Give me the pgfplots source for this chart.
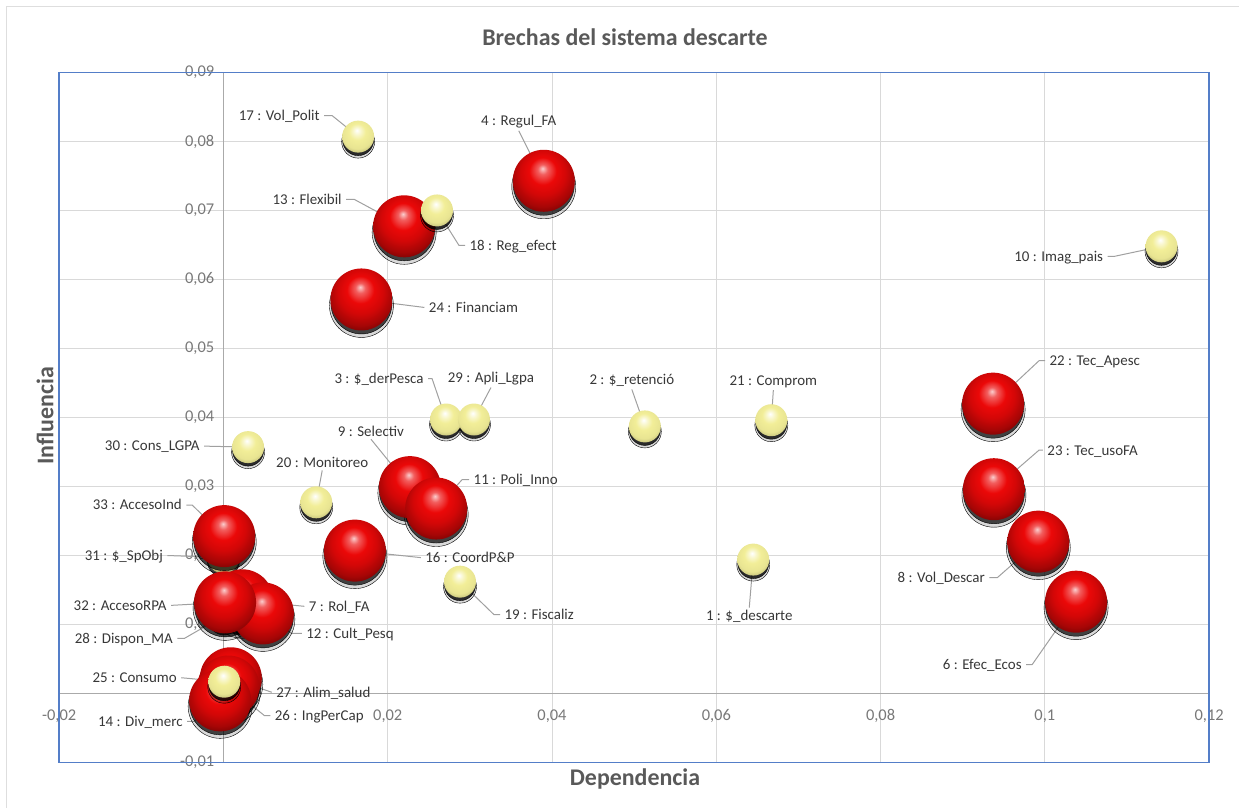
\documentclass[border=0pt]{standalone}
\usepackage{pgfplots}
\pgfplotsset{compat=1.18}
\usepackage{pgfplotstable}
\usepackage{fontspec}
\setmainfont{Carlito}

\definecolor{ballred}{RGB}{235,8,8}
\definecolor{ballyel}{RGB}{242,238,152}
\definecolor{gridgray}{RGB}{217,217,217}
\definecolor{axisgray}{RGB}{170,170,170}
\definecolor{framecol}{RGB}{84,126,200}
\definecolor{tickgray}{RGB}{120,120,120}
\definecolor{labgray}{RGB}{55,55,55}
\definecolor{titlegray}{RGB}{89,89,89}
\definecolor{leadgray}{RGB}{160,160,160}
\definecolor{outergray}{RGB}{222,222,222}

% glossy spheres for the bubbles
\pgfdeclareradialshading{redball}{\pgfpoint{-1bp}{10bp}}{%
  color(0bp)=(ballred!20!white);
  color(4bp)=(ballred!65!white);
  color(11bp)=(ballred);
  color(18bp)=(ballred!90!black);
  color(26bp)=(ballred!70!black);
  color(33bp)=(ballred!42!black);
  color(50bp)=(ballred!42!black)}
\pgfdeclareradialshading{yelball}{\pgfpoint{-2bp}{10bp}}{%
  color(0bp)=(white);
  color(6bp)=(ballyel!50!white);
  color(13bp)=(ballyel);
  color(24bp)=(ballyel!96!black);
  color(30bp)=(ballyel!82!black);
  color(36bp)=(ballyel!55!black);
  color(50bp)=(ballyel!55!black)}
\pgfdeclareplotmark{redball}{\pgfpathcircle{\pgfpointorigin}{\pgfplotmarksize}\pgfshadepath{redball}{0}\pgfusepath{}}
\pgfdeclareplotmark{yelball}{\pgfpathcircle{\pgfpointorigin}{\pgfplotmarksize}\pgfshadepath{yelball}{0}\pgfusepath{}}

\newcommand{\ticksize}{\fontsize{16.5}{19}\selectfont}
\newcommand{\labsize}{\fontsize{15}{18}\selectfont}

\tikzset{
  leader/.style={draw=leadgray, line width=1bp},
  lbE/.style={anchor=base east, yshift=-4.8bp, inner sep=4bp, font=\labsize, text=labgray},
  lbW/.style={anchor=base west, yshift=-4.8bp, inner sep=4bp, font=\labsize, text=labgray},
  lbS/.style={anchor=south, inner sep=2bp, font=\labsize, text=labgray},
  lbN/.style={anchor=north, inner sep=2bp, font=\labsize, text=labgray},
}

% Dependencia (x), Influencia (y)
\pgfplotstableread{
x y n
0.0390 0.0743 4
0.0220 0.0677 13
0.0168 0.0571 24
0.0227 0.0299 9
0.0259 0.0268 11
0.0160 0.0207 16
0.0001 0.0228 33
0.0023 0.0135 7
0.0048 0.0116 12
0.0002 0.0132 32
0.0009 0.0022 27
0.0006 0.0010 26
-0.0004 -0.0010 14
0.0937 0.0420 22
0.0938 0.0296 23
0.0992 0.0220 8
0.1038 0.0133 6
}\redpts

\pgfplotstableread{
x y n
0.0164 0.0807 17
0.0260 0.0700 18
0.1142 0.0648 10
0.0271 0.0397 3
0.0305 0.0397 29
0.0513 0.0387 2
0.0667 0.0396 21
0.0030 0.0357 30
0.0113 0.0277 20
0.0288 0.0162 19
0.0645 0.0194 1
0.0001 0.0017 25
}\yelpts

\pgfplotstableread{
x y n
0.0000 0.0197 31
0.0001 0.0113 28
}\backpts

\begin{document}
\begin{tikzpicture}[x=1bp,y=1bp]
\draw[outergray, line width=1bp] (6.5,-20) -- (6.5,801.5) -- (1260,801.5);

\begin{axis}[
  at={(72,66)}, anchor=south west,
  scale only axis, width=1150bp, height=690bp,
  xmin=-0.02, xmax=0.12, ymin=-0.01, ymax=0.09,
  axis lines=middle,
  axis line style={-, draw=axisgray, line width=1bp},
  xtick={-0.02,0,0.02,0.04,0.06,0.08,0.1,0.12},
  ytick={-0.01,0,0.01,0.02,0.03,0.04,0.05,0.06,0.07,0.08,0.09},
  grid=major, major grid style={draw=gridgray, line width=1bp},
  major tick length=0pt, tick style={draw=none},
  scaled ticks=false,
  /pgf/number format/.cd, use comma, fixed, precision=2, assume math mode=true, /pgfplots/.cd,
  xticklabel style={font=\ticksize, text=tickgray, anchor=base, yshift=-27.5bp, inner sep=0pt},
  yticklabel style={font=\ticksize, text=tickgray, anchor=east, xshift=-9bp, inner sep=0pt},
  hide obscured x ticks=false, hide obscured y ticks=false,
  clip=false,
  set layers,
]
% bubbles lying underneath others
\addplot[only marks, mark=*, mark size=16bp, mark options={draw=none, fill=black, fill opacity=0.7, yshift=-3.5bp}] table[x=x,y=y] {\backpts};
\addplot[only marks, mark=yelball, mark size=16bp] table[x=x,y=y] {\backpts};
% large red bubbles
\addplot[only marks, mark=*, mark size=32bp, mark options={draw=none, fill=black, fill opacity=0.15, yshift=-6bp}] table[x=x,y=y] {\redpts};
\addplot[only marks, mark=*, mark size=30.5bp, mark options={draw=none, fill=black, fill opacity=0.7, yshift=-4bp}] table[x=x,y=y] {\redpts};
\addplot[only marks, mark=redball, mark size=31bp] table[x=x,y=y] {\redpts};
% small yellow bubbles
\addplot[only marks, mark=*, mark size=16.5bp, mark options={draw=none, fill=black, fill opacity=0.15, yshift=-5bp}] table[x=x,y=y] {\yelpts};
\addplot[only marks, mark=*, mark size=15.5bp, mark options={draw=none, fill=black, fill opacity=0.8, yshift=-3.5bp}] table[x=x,y=y] {\yelpts};
\addplot[only marks, mark=yelball, mark size=16bp] table[x=x,y=y] {\yelpts};

% data labels with leader lines
\draw[leader] (axis cs:0.0164,0.0807) -- ++(-26bp,21bp) -- ++(-8bp,0bp) node[lbE] {17 : Vol\_Polit};
\draw[leader] (axis cs:0.0220,0.0677) -- ++(-50bp,27bp) -- ++(-8bp,0bp) node[lbE] {13 : Flexibil};
\draw[leader] (axis cs:0.0390,0.0743) -- ++(-25bp,50bp) node[lbS] {4 : Regul\_FA};
\draw[leader] (axis cs:0.0260,0.0700) -- ++(22bp,-35bp) -- ++(6bp,0bp) node[lbW] {18 : Reg\_efect};
\draw[leader] (axis cs:0.0168,0.0571) -- ++(63bp,-8bp) node[lbW] {24 : Financiam};
\draw[leader] (axis cs:0.1142,0.0648) -- ++(-47bp,-10bp) -- ++(-7bp,0bp) node[lbE] {10 : Imag\_pais};
\draw[leader] (axis cs:0.0271,0.0397) -- ++(-14bp,41bp) -- ++(-4bp,0bp) node[lbE] {3 : \$\_derPesca};
\draw[leader] (axis cs:0.0305,0.0397) -- ++(17bp,32bp) node[lbS] {29 : Apli\_Lgpa};
\draw[leader] (axis cs:0.0513,0.0387) -- ++(-13bp,37bp) node[lbS] {2 : \$\_retenció};
\draw[leader] (axis cs:0.0667,0.0396) -- ++(2bp,30bp) node[lbS] {21 : Comprom};
\draw[leader] (axis cs:0.0030,0.0357) -- ++(-44bp,1bp) node[lbE] {30 : Cons\_LGPA};
\draw[leader] (axis cs:0.0227,0.0299) -- ++(-39bp,48bp) node[lbS] {9 : Selectiv};
\draw[leader] (axis cs:0.0113,0.0277) -- ++(6bp,32bp) node[lbS] {20 : Monitoreo};
\draw[leader] (axis cs:0.0259,0.0268) -- ++(26bp,29bp) -- ++(7bp,0bp) node[lbW] {11 : Poli\_Inno};
\draw[leader] (axis cs:0.0001,0.0228) -- ++(-32bp,31bp) -- ++(-6bp,0bp) node[lbE] {33 : AccesoInd};
\draw[leader] (axis cs:0.0000,0.0197) -- ++(-56bp,2bp) node[lbE] {31 : \$\_SpObj};
\draw[leader] (axis cs:0.0160,0.0207) -- ++(66bp,-7bp) node[lbW] {16 : CoordP\&P};
\draw[leader] (axis cs:0.0002,0.0132) -- ++(-54bp,-3bp) node[lbE] {32 : AccesoRPA};
\draw[leader] (axis cs:0.0023,0.0135) -- ++(62bp,-6bp) node[lbW] {7 : Rol\_FA};
\draw[leader] (axis cs:0.0001,0.0113) -- ++(-40bp,-23bp) -- ++(-7bp,0bp) node[lbE] {28 : Dispon\_MA};
\draw[leader] (axis cs:0.0048,0.0116) -- ++(29bp,-20bp) -- ++(10bp,0bp) node[lbW] {12 : Cult\_Pesq};
\draw[leader] (axis cs:0.0001,0.0017) -- ++(-43bp,4bp) node[lbE] {25 : Consumo};
\draw[leader] (axis cs:0.0009,0.0022) -- ++(41bp,-14bp) node[lbW] {27 : Alim\_salud};
\draw[leader] (axis cs:0.0006,0.0010) -- ++(36bp,-29bp) -- ++(6bp,0bp) node[lbW] {26 : IngPerCap};
\draw[leader] (axis cs:-0.0004,-0.0010) -- ++(-26bp,-21bp) -- ++(-7bp,0bp) node[lbE] {14 : Div\_merc};
\draw[leader] (axis cs:0.0288,0.0162) -- ++(34bp,-33bp) -- ++(6bp,0bp) node[lbW] {19 : Fiscaliz};
\draw[leader] (axis cs:0.0645,0.0194) -- ++(-4bp,-48bp) node[lbN] {1 : \$\_descarte};
\draw[leader] (axis cs:0.0937,0.0420) -- ++(46bp,43bp) -- ++(6bp,0bp) node[lbW] {22 : Tec\_Apesc};
\draw[leader] (axis cs:0.0938,0.0296) -- ++(45bp,39bp) -- ++(4bp,0bp) node[lbW] {23 : Tec\_usoFA};
\draw[leader] (axis cs:0.0992,0.0220) -- ++(-41bp,-36bp) -- ++(-8bp,0bp) node[lbE] {8 : Vol\_Descar};
\draw[leader] (axis cs:0.1038,0.0133) -- ++(-44bp,-63bp) -- ++(-6bp,0bp) node[lbE] {6 : Efec\_Ecos};

\begin{pgfonlayer}{axis foreground}
\draw[framecol, line width=1.5bp] (rel axis cs:0,0) rectangle (rel axis cs:1,1);
\end{pgfonlayer}
\end{axis}

\node[font=\fontsize{24}{28}\selectfont\bfseries, text=titlegray] at (625,771) {Brechas del sistema descarte};
\node[font=\fontsize{24}{28}\selectfont\bfseries, text=titlegray, anchor=base] at (635,22) {Dependencia};
\node[font=\fontsize{24}{28}\selectfont\bfseries, text=titlegray, rotate=90] at (45,392) {Influencia};

\pgfresetboundingbox
\useasboundingbox (0,0) rectangle (1239,808);
\end{tikzpicture}
\end{document}
